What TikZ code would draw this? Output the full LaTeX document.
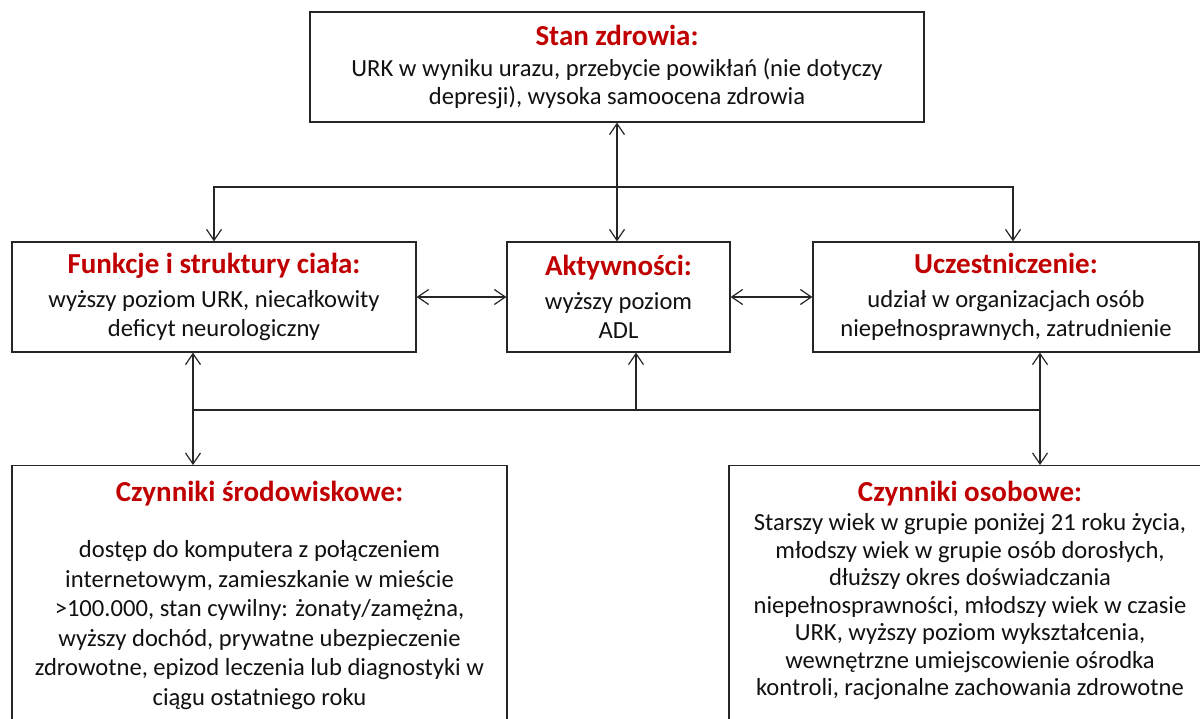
\documentclass[tikz,border=0pt]{standalone}
\usepackage{fontspec}
\setmainfont{Carlito}
\definecolor{hdred}{HTML}{C00000}
\definecolor{linecol}{HTML}{262626}
\definecolor{txtcol}{HTML}{111111}
\usetikzlibrary{arrows.meta}
\newcommand{\hd}[1]{{\fontsize{29}{30}\selectfont\bfseries\color{hdred}#1}}

\begin{document}
\begin{tikzpicture}[
    x=1pt, y=-1pt,
    every node/.style={font=\fontsize{24.6}{28.5}\selectfont, text=txtcol},
    box/.style={rectangle, draw=linecol, line width=1.2pt, align=center, inner sep=0pt, minimum height=110pt},
    midbox/.style={box, font=\fontsize{24.6}{29.5}\selectfont},
    lowbox/.style={rectangle, draw=linecol, line width=1.2pt, anchor=north, inner xsep=0pt, inner ysep=16pt},
    line/.style={draw=linecol, line width=1.2pt},
    single/.style={line, -{Straight Barb[length=11pt, width=15pt]}},
    both/.style={line, {Straight Barb[length=11pt, width=15pt]}-{Straight Barb[length=11pt, width=15pt]}}
    ]
    \useasboundingbox (0,0) rectangle (1200,719);
    \clip (0,0) rectangle (1200,719);
    % boxes
    \node[box, minimum width=614pt] (stan) at (617,67) {\hd{Stan zdrowia:}\\[2pt] URK w wyniku urazu, przebycie powikłań (nie dotyczy\\ depresji), wysoka samoocena zdrowia};
    \node[midbox, minimum width=404pt] (funkcje) at (214,297) {\hd{Funkcje i struktury ciała:}\\[4pt] wyższy poziom URK, niecałkowity\\ deficyt neurologiczny};
    \node[midbox, minimum width=223pt] (aktyw) at (618.5,297) {\hd{Aktywności:}\\[4pt] wyższy poziom\\ ADL};
    \node[midbox, minimum width=386pt] (uczest) at (1006,297) {\hd{Uczestniczenie:}\\[4pt] udział w organizacjach osób\\ niepełnosprawnych, zatrudnienie};
    \node[lowbox] (srodow) at (259.5,465) {\parbox[c][270pt][t]{495pt}{\centering\fontsize{24.6}{29.6}\selectfont
      \hd{Czynniki środowiskowe:}\\[26pt] dostęp do komputera z połączeniem\\ internetowym, zamieszkanie w mieście\\ >100.000, stan cywilny: żonaty/zamężna,\\ wyższy dochód, prywatne ubezpieczenie\\ zdrowotne, epizod leczenia lub diagnostyki w\\ ciągu ostatniego roku}};
    \node[lowbox] (osob) at (970,465) {\parbox[c][270pt][t]{482pt}{\centering\fontsize{24.6}{27.5}\selectfont
      \hd{Czynniki osobowe:}\\[1.5pt] Starszy wiek w grupie poniżej 21 roku życia,\\ młodszy wiek w grupie osób dorosłych,\\ dłuższy okres doświadczania\\ niepełnosprawności, młodszy wiek w czasie\\ URK, wyższy poziom wykształcenia,\\ wewnętrzne umiejscowienie ośrodka\\ kontroli, racjonalne zachowania zdrowotne}};
    % connectors
    \coordinate (split) at (617,187);
    \coordinate (splitR) at (1013,187);
    \coordinate (busL) at (193,410);
    \coordinate (busM) at (636,410);
    \coordinate (busR) at (1040,410);
    \draw[both] (stan.south) -- (stan.south |- aktyw.north);
    \draw[single] (split) -| (funkcje.north);
    \draw[single] (split) -- (splitR) -- (splitR |- uczest.north);
    \draw[both] (funkcje.east) -- (aktyw.west);
    \draw[both] (aktyw.east) -- (uczest.west);
    \draw[line] (busL) -- (busR);
    \draw[single] (busM) -- (busM |- aktyw.south);
    \draw[both] (busL |- funkcje.south) -- (busL |- srodow.north);
    \draw[both] (busR |- uczest.south) -- (busR |- osob.north);
\end{tikzpicture}
\end{document}
